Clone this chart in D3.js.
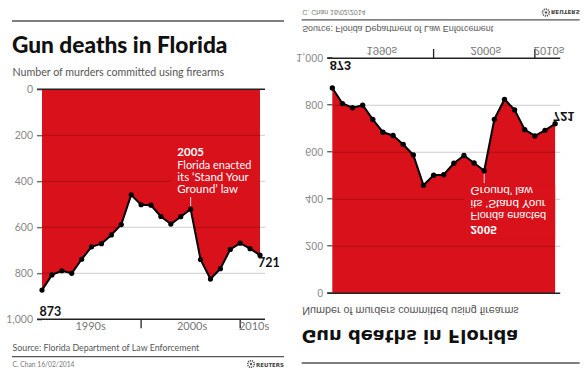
<!DOCTYPE html>
<html>
<head>
<meta charset="utf-8">
<script src="https://cdn.jsdelivr.net/npm/d3@7/dist/d3.min.js"></script>
<style>
  html, body { margin: 0; padding: 0; background: #fff; }
  svg { display: block; }
</style>
</head>
<body>
<svg id="chart" width="587" height="377"></svg>
<script>
// ---- data ----
const years = [1990, 1991, 1992, 1993, 1994, 1995, 1996, 1997, 1998, 1999, 2000,
               2001, 2002, 2003, 2004, 2005, 2006, 2007, 2008, 2009, 2010, 2011, 2012];
const murders = [873, 807, 789, 800, 739, 685, 671, 633, 588, 459, 502,
                 504, 553, 586, 554, 521, 740, 825, 780, 696, 669, 693, 721];
const yTicks = [0, 200, 400, 600, 800, 1000];
const yTickLabels = ["0", "200", "400", "600", "800", "1,000"];
const decadeLabels = ["1990s", "2000s", "2010s"];
const decadeStarts = [1990, 2000, 2010];
const decadeEnds = [2000, 2010, 2012];
const annotationYear = 2005;
const annotationLines = ["Florida enacted", "its \u2018Stand Your", "Ground\u2019 law"];
const titleText = "Gun deaths in Florida";
const subtitleText = "Number of murders committed using firearms";
const sourceText = "Source: Florida Department of Law Enforcement";
const creditText = "C. Chan 16/02/2014";

const RED = "#d8111b";
const data = years.map((yr, i) => ({ year: yr, value: murders[i] }));

const svg = d3.select("#chart");
svg.append("rect").attr("width", 587).attr("height", 377).attr("fill", "#fff");

function fit(sel, width) {
  const n = sel.node();
  const len = n.getComputedTextLength();
  const fs = parseFloat(sel.attr("font-size"));
  if (len > 0) sel.attr("font-size", (fs * width / len).toFixed(2));
}

function drawPanel(g, o) {
  const x = d3.scaleLinear().domain([years[0], years[years.length - 1]]).range([42, 260]);
  const y = d3.scaleLinear().domain([0, 1000]).range([89.3, 319.3]);
  const x0 = x.range()[0] - 5, x1 = x.range()[1] + 5;

  // rules
  g.append("line").attr("x1", 12).attr("x2", 284).attr("y1", 21).attr("y2", 21)
    .attr("stroke", "#555").attr("stroke-width", 1.5);
  g.append("line").attr("x1", 12).attr("x2", 284).attr("y1", 356.7).attr("y2", 356.7)
    .attr("stroke", "#555").attr("stroke-width", 1.2);

  // title & subtitle
  const t = g.append("text").attr("x", 12).attr("y", 53).attr("font-family", o.titleFont)
    .attr("font-weight", o.titleWeight).attr("font-size", 22).attr("fill", "#111").text(titleText);
  fit(t, o.titleWidth);
  const st = g.append("text").attr("x", 12.5).attr("y", 76).attr("font-family", o.font)
    .attr("font-size", 11.5).attr("fill", "#555").text(subtitleText);
  fit(st, 212);

  // area
  const area = d3.area().x(d => x(d.year)).y0(y(0)).y1(d => y(d.value));
  g.append("path").datum(data).attr("d", area).attr("fill", RED);

  // gridlines
  g.append("g").selectAll("line").data(yTicks.filter(v => v > 0 && v < 1000)).join("line")
    .attr("x1", x0).attr("x2", x1).attr("y1", d => y(d)).attr("y2", d => y(d))
    .attr("stroke", "rgba(0,0,0,0.2)").attr("stroke-width", 1);

  // annotation knock-out (inside the red area only)
  const ay = y(data.find(d => d.year === annotationYear).value);
  g.append("rect").attr("x", 171).attr("y", 143).attr("width", x.range()[1] - 171).attr("height", 52)
    .attr("fill", RED);

  // top (zero) line
  g.append("line").attr("x1", x0).attr("x2", x1).attr("y1", y(0)).attr("y2", y(0))
    .attr("stroke", "#222").attr("stroke-width", 1.5);

  // y axis
  const yAxis = d3.axisLeft(y).tickValues(yTicks).tickSize(5).tickPadding(4)
    .tickFormat((d, i) => yTickLabels[i]);
  const ya = g.append("g").attr("transform", `translate(${x0 + 5},0)`).call(yAxis);
  ya.select(".domain").remove();
  ya.selectAll(".tick line").attr("stroke", "#444");
  ya.selectAll(".tick text").attr("font-family", o.font).attr("font-size", 10.5).attr("fill", "#888");

  // x axis line
  const by = y(1000);
  g.append("line").attr("x1", x0).attr("x2", x1).attr("y1", by).attr("y2", by)
    .attr("stroke", "#222").attr("stroke-width", 1.5);
  g.append("g").selectAll("line").data(decadeStarts.slice(1)).join("line")
    .attr("x1", d => x(d)).attr("x2", d => x(d)).attr("y1", by).attr("y2", by + 9)
    .attr("stroke", "#222").attr("stroke-width", 1.3);
  g.append("g").selectAll("text").data(decadeLabels).join("text")
    .attr("x", (d, i) => {
      const a = decadeStarts[i] === years[0] ? x0 : x(decadeStarts[i]);
      const b = decadeEnds[i] === years[years.length - 1] ? x1 : x(decadeEnds[i]);
      return (a + b) / 2 + 1.5;
    })
    .attr("y", 330).attr("text-anchor", "middle").attr("font-family", o.font)
    .attr("font-size", 11).attr("fill", "#777").text(d => d);

  // line & dots
  const line = d3.line().x(d => x(d.year)).y(d => y(d.value));
  g.append("path").datum(data).attr("d", line).attr("fill", "none")
    .attr("stroke", "#000").attr("stroke-width", 2).attr("stroke-linejoin", "round");
  g.append("g").selectAll("circle").data(data).join("circle")
    .attr("cx", d => x(d.year)).attr("cy", d => y(d.value)).attr("r", 2.6).attr("fill", "#000");

  // end labels
  const first = data[0], last = data[data.length - 1];
  g.append("text").attr("x", x(first.year) - 2.5).attr("y", y(first.value) + 26)
    .attr("font-family", o.font).attr("font-weight", "bold").attr("font-size", 12.5)
    .attr("fill", "#111").text(first.value);
  g.append("text").attr("x", x(last.year) - 2).attr("y", y(last.value) + 12)
    .attr("font-family", o.font).attr("font-weight", "bold").attr("font-size", 12.5)
    .attr("fill", "#111").text(last.value);

  // annotation
  const ax = x(annotationYear);
  g.append("line").attr("x1", ax).attr("x2", ax).attr("y1", 197).attr("y2", ay - 3)
    .attr("stroke", "#fff").attr("stroke-width", 0.8);
  g.append("text").attr("x", 177.3).attr("y", 155.5).attr("font-family", o.font)
    .attr("font-weight", "bold").attr("font-size", 11.5).attr("fill", "#fff").text(annotationYear);
  g.append("g").selectAll("text").data(annotationLines).join("text")
    .attr("x", 177.3).attr("y", (d, i) => 168.5 + i * 12.2)
    .attr("font-family", o.font).attr("font-size", 11.5).attr("fill", "#fff").text(d => d)
    .each(function (d, i) { if (i === 0) fit(d3.select(this), 74); });

  // source & credit
  const src = g.append("text").attr("x", 12.5).attr("y", 350.5).attr("font-family", o.font)
    .attr("font-size", 10.5).attr("fill", "#555").text(sourceText);
  fit(src, 187);
  const cr = g.append("text").attr("x", 12.5).attr("y", 366.5).attr("font-family", o.font)
    .attr("font-size", 7.5).attr("fill", "#777").text(creditText);
  fit(cr, 62);

  // Reuters logo
  const lg = g.append("g").attr("transform", "translate(251,364)");
  lg.append("circle").attr("r", 3.3).attr("fill", "none").attr("stroke", "#555").attr("stroke-width", 1.6)
    .attr("stroke-dasharray", "1.2 0.8");
  lg.append("circle").attr("r", 1.2).attr("fill", "#555");
  const rt = lg.append("text").attr("x", 5).attr("y", 2.6).attr("font-family", "DejaVu Sans")
    .attr("font-weight", "bold").attr("font-size", 7).attr("fill", "#444").text("REUTERS");
  fit(rt, 28);
}

drawPanel(svg.append("g"), {
  font: "Lato, 'Open Sans', sans-serif", titleFont: "Lato, 'Open Sans', sans-serif",
  titleWeight: 900, titleWidth: 215.5
});
drawPanel(svg.append("g").attr("transform", "matrix(1.022,0,0,-1.022,289.4,384.5)"), {
  font: "'Liberation Sans', Arial, sans-serif", titleFont: "'DejaVu Sans', sans-serif",
  titleWeight: "bold", titleWidth: 212
});
</script>
</body>
</html>
